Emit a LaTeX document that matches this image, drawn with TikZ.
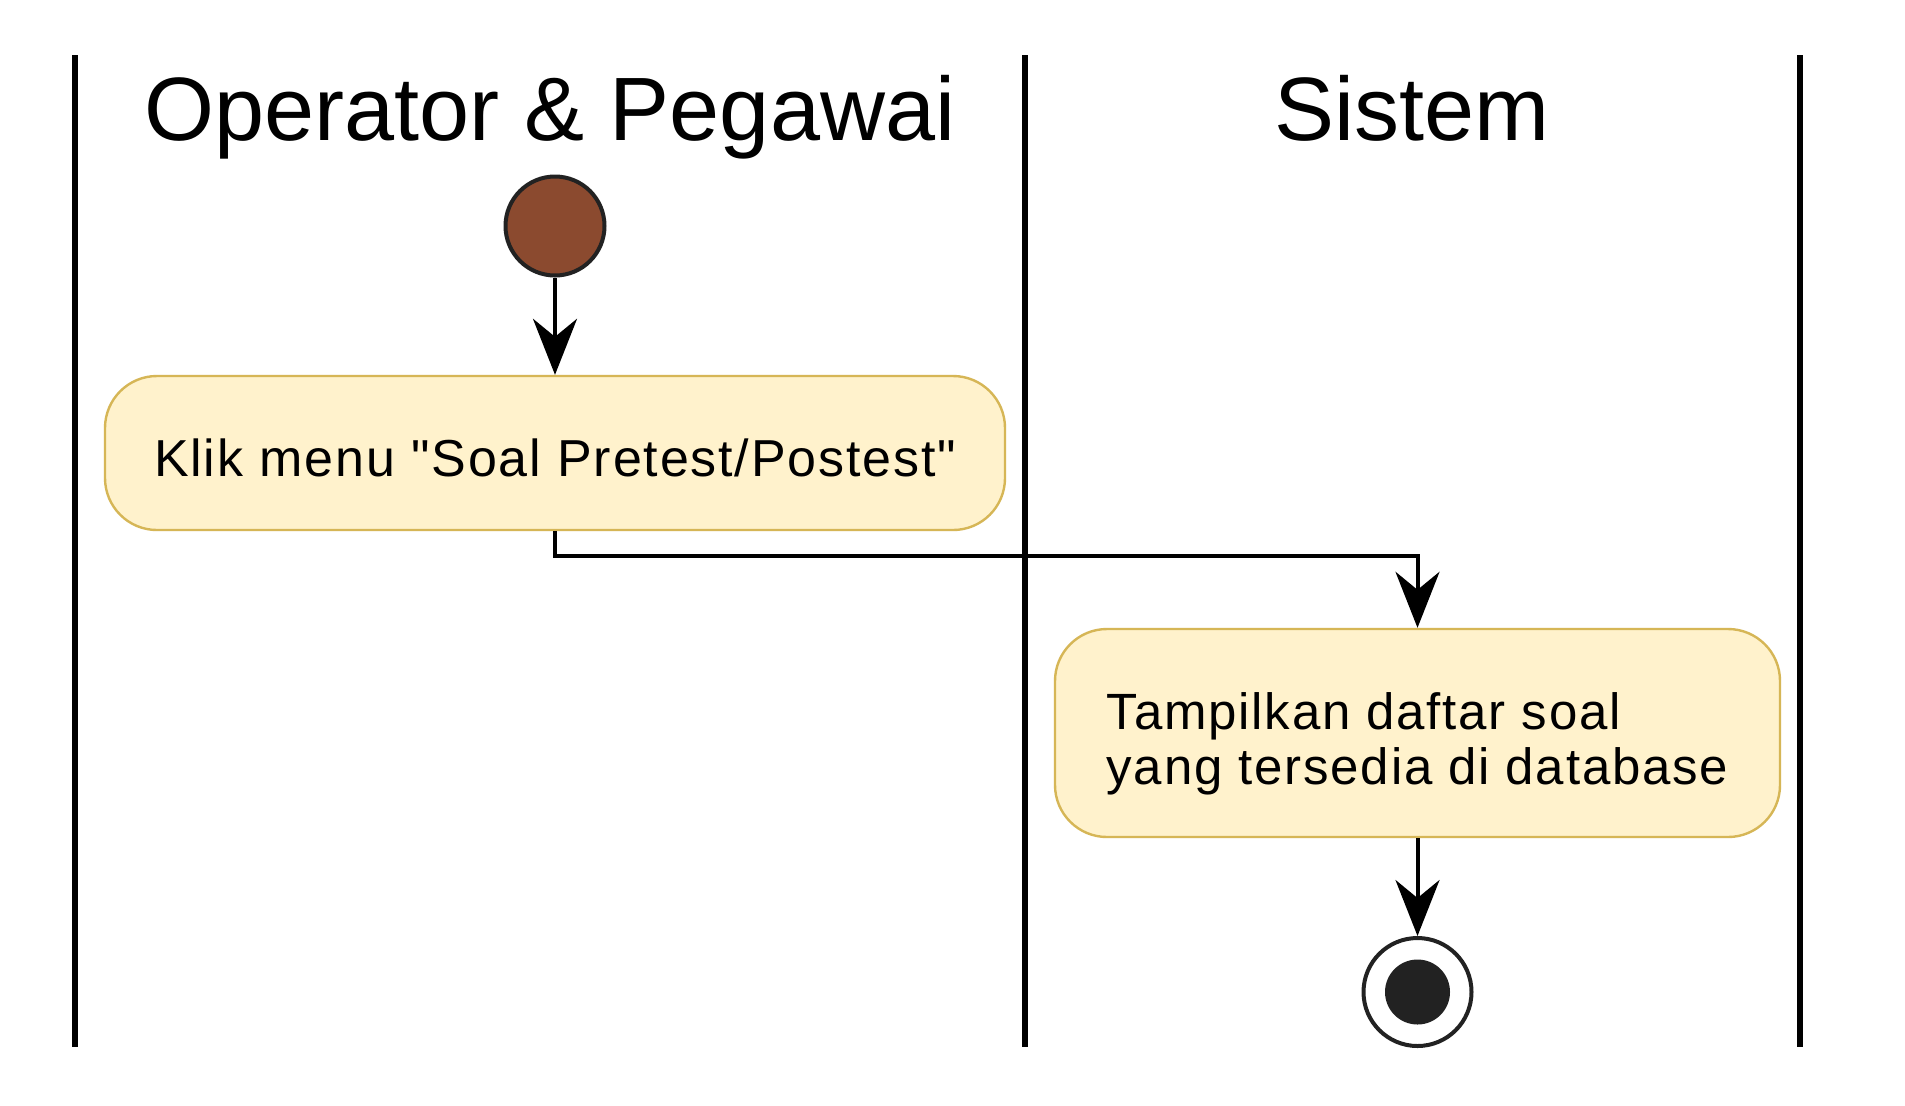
\documentclass[tikz,border=0pt]{standalone}
\usepackage{fontspec}
\setmainfont{Liberation Sans}
\newfontfamily\actfont[LetterSpace=3.5]{Liberation Sans}
\usetikzlibrary{arrows.meta}

\definecolor{actfill}{HTML}{FFF2CC}
\definecolor{actline}{HTML}{D6B656}
\definecolor{startbrown}{HTML}{8B4A2F}
\definecolor{darkdot}{HTML}{222222}

\newcommand{\lanehead}[3]{%
 \node[lanetitle] ({#1}) at ({#2}) {#3};%
}

\begin{document}
\begin{tikzpicture}[x=0.5pt,y=-0.5pt,
  lane/.style={line width=3pt,black},
  lanetitle/.style={anchor=base,inner sep=0pt,font=\fontsize{45}{50}\selectfont},
  action/.style={draw=actline,fill=actfill,line width=1.2pt,rounded corners=26pt,
    inner sep=0pt,font=\actfont\fontsize{25.5}{27.5}\selectfont},
  flow/.style={line width=2pt,-{Stealth[length=28pt,width=22pt,inset=9pt]}},
  startdot/.style={circle,draw=darkdot,fill=startbrown,line width=2pt,minimum size=49.5pt,inner sep=0pt},
  endring/.style={circle,draw=darkdot,fill=white,line width=2pt,minimum size=54pt,inner sep=0pt},
  enddot/.style={circle,fill=darkdot,minimum size=32.5pt,inner sep=0pt}]
  \useasboundingbox[fill=white] (0,0) rectangle (1905,1105);
  \foreach \x in {75,1025,1800}
   \draw[lane] (\x,55) -- (\x,1047);
  \lanehead{opr}{550,140}{Operator \& Pegawai}
  \lanehead{sys}{1412,140}{Sistem}
  \node[startdot] (start) at (555,226) {};
  \node[action,minimum width=450pt,minimum height=77pt,text depth=0pt,
   font=\actfont\fontsize{26}{28}\selectfont] (klik) at (555,453)
   {\rule{0pt}{23pt}Klik menu "Soal Pretest/Postest"};
  \node[action,align=left,minimum width=362.5pt,minimum height=104pt] (tampil) at (1417.5,733)
   {\rule{0pt}{29pt}Tampilkan daftar soal\\yang tersedia di database};
  \node[endring] (end) at (1417.5,992) {};
  \node[enddot] (endcore) at (end) {};
  \draw[flow] (start) -- (klik);
  \draw[flow] (klik.south) -- ++(0,25) -| (tampil.north);
  \draw[flow] (tampil) -- (end);
\end{tikzpicture}
\end{document}
